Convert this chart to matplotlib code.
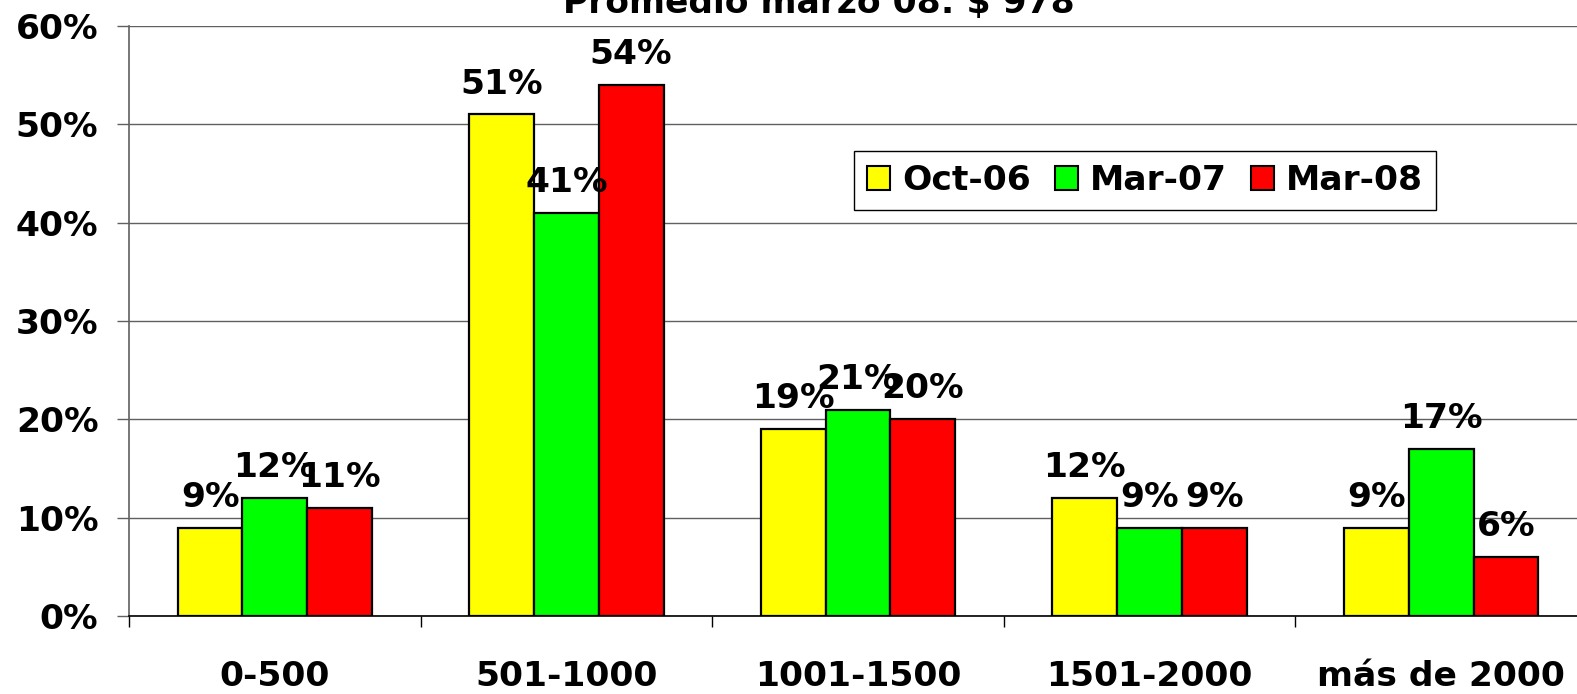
import matplotlib
matplotlib.use("Agg")
import matplotlib.pyplot as plt
import numpy as np
from matplotlib.ticker import FixedLocator, PercentFormatter

categories = ["0-500", "501-1000", "1001-1500", "1501-2000", "más de 2000"]
series_names = ["Oct-06", "Mar-07", "Mar-08"]
oct06 = [9, 51, 19, 12, 9]
mar07 = [12, 41, 21, 9, 17]
mar08 = [11, 54, 20, 9, 6]
yticks = [0, 10, 20, 30, 40, 50, 60]
title = "Promedio marzo 08: $ 978"

colors = ["#FFFF00", "#00FF00", "#FF0000"]
series = [oct06, mar07, mar08]

plt.rcParams['font.family'] = ['DejaVu Sans']
plt.rcParams['font.weight'] = 'bold'
FS = 24.8

fig = plt.figure(figsize=(15.77, 6.94), dpi=100)
ax = fig.add_axes([129/1577, 78/694, 1458/1577, 590/694])

x = np.arange(len(categories))
bw = 0.222
for j, (vals, c, name) in enumerate(zip(series, colors, series_names)):
    pos = x + (j - 1) * bw
    ax.bar(pos, vals, width=bw, color=c, edgecolor="black", linewidth=1.6,
           label=name, zorder=3)
    for p, v in zip(pos, vals):
        ax.annotate(f"{v}%", xy=(p, v), xytext=(0, 15), textcoords="offset points",
                    ha="center", va="baseline", fontsize=FS, fontweight="bold", zorder=5)

ax.set_xlim(-0.5, len(categories) - 0.5)
ax.set_ylim(0, 60)
ax.set_yticks(yticks)
ax.yaxis.set_major_formatter(PercentFormatter(decimals=0))
ax.set_xticks(x)
ax.set_xticklabels(categories)
ax.xaxis.set_minor_locator(FixedLocator(np.arange(-0.5, len(categories), 1.0)))
ax.tick_params(axis="x", which="major", length=0, pad=32, labelsize=FS)
ax.tick_params(axis="x", which="minor", length=8, width=1, color="black")
ax.tick_params(axis="y", length=9, width=1, color="#606060", pad=13, labelsize=FS)
for lab in ax.get_xticklabels() + ax.get_yticklabels():
    lab.set_fontweight("bold")

ax.yaxis.grid(True, color="#606060", linewidth=1.0, zorder=0)
ax.set_axisbelow(True)
for s in ["top", "right"]:
    ax.spines[s].set_visible(False)
ax.spines["left"].set_color("#606060")
ax.spines["left"].set_linewidth(1.2)
ax.spines["bottom"].set_color("black")
ax.spines["bottom"].set_linewidth(1.2)
ax.spines["bottom"].set_zorder(4)

leg = ax.legend(loc="center", bbox_to_anchor=(0.697, 0.738), ncol=3, fontsize=FS,
                frameon=True, fancybox=False, edgecolor="black", framealpha=1,
                handlelength=0.66, handleheight=0.66, handletextpad=0.36,
                columnspacing=0.69, borderpad=0.38, borderaxespad=0)
leg.get_frame().set_linewidth(1.0)
for t in leg.get_texts():
    t.set_fontweight("bold")
for h in leg.legend_handles:
    h.set_linewidth(1.5)

fig.text(819/1577, 1 - 13/694, title, ha="center", va="baseline", fontsize=FS,
         fontweight="bold")

fig.savefig("out.png", dpi=100)
